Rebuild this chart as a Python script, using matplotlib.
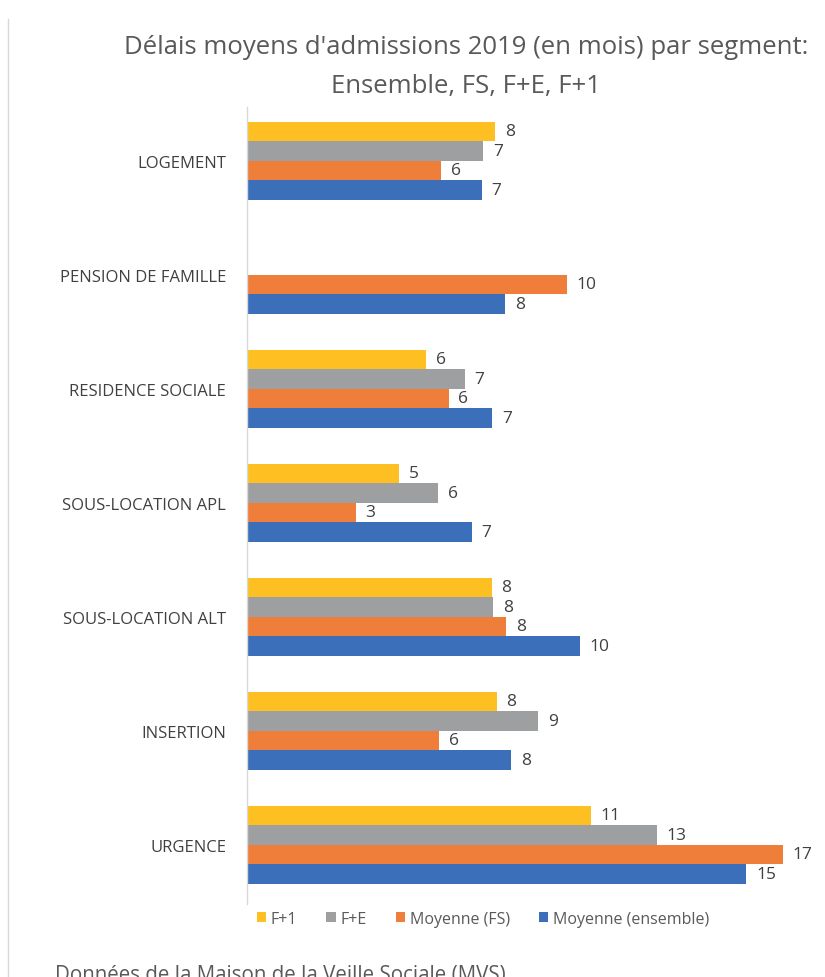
import numpy as np
import matplotlib.pyplot as plt
from matplotlib.lines import Line2D

# categories from top to bottom
categories = ['LOGEMENT', 'PENSION DE FAMILLE', 'RESIDENCE SOCIALE', 'SOUS-LOCATION APL',
              'SOUS-LOCATION ALT', 'INSERTION', 'URGENCE']
series = ['F+1', 'F+E', 'Moyenne (FS)', 'Moyenne (ensemble)']

# bar lengths (months)
f1 = [7.75, np.nan, 5.6, 4.75, 7.65, 7.8, 10.75]
fe = [7.38, np.nan, 6.8, 5.97, 7.69, 9.1, 12.8]
fs = [6.06, 10.0, 6.3, 3.4, 8.1, 6.0, 16.75]
ens = [7.34, 8.06, 7.66, 7.03, 10.4, 8.25, 15.6]

# data labels as printed on the chart
f1_lab = [8, None, 6, 5, 8, 8, 11]
fe_lab = [7, None, 7, 6, 8, 9, 13]
fs_lab = [6, 10, 6, 3, 8, 6, 17]
ens_lab = [7, 8, 7, 7, 10, 8, 15]

colors = ['#FDBF22', '#9D9FA0', '#EF7E3A', '#3C6FBA']
txt = '#404040'

plt.rcParams['font.family'] = ['Open Sans', 'DejaVu Sans']

fig = plt.figure(figsize=(8.25, 9.78), dpi=100)
ax = fig.add_axes([247 / 825, 1 - 905 / 978, 553 / 825, 797 / 978])

y = np.arange(len(categories))
h = 0.171
offsets = [-1.5 * h, -0.5 * h, 0.5 * h, 1.5 * h]
allvals = [f1, fe, fs, ens]
alllabs = [f1_lab, fe_lab, fs_lab, ens_lab]

for vals, labs, off, col, name in zip(allvals, alllabs, offsets, colors, series):
    ax.barh(y + off, vals, height=h, color=col, label=name)
    for yi, v, lab in zip(y, vals, labs):
        if lab is None:
            continue
        ax.annotate(str(lab), (v, yi + off), xytext=(7, 0), textcoords='offset points',
                    va='center', ha='left', fontsize=12.5, color=txt)

ax.set_xlim(0, 553 / 32)
ax.set_ylim(6.52, -0.47)
ax.set_yticks(y)
ax.set_yticklabels(categories, fontsize=12, color=txt)
ax.tick_params(axis='y', length=0, pad=15)
ax.set_xticks([])
for s in ['top', 'right', 'bottom']:
    ax.spines[s].set_visible(False)
ax.spines['left'].set_color('#d9d9d9')
ax.spines['left'].set_linewidth(1)

fig.text(466 / 825, 1 - 48 / 978, "Délais moyens d'admissions 2019 (en mois) par segment:",
         ha='center', va='center', fontsize=18.5, color='#595959')
fig.text(466 / 825, 1 - 86 / 978, 'Ensemble, FS, F+E, F+1',
         ha='center', va='center', fontsize=18.5, color='#595959')

fig.legend(loc='center', bbox_to_anchor=(483 / 825, 1 - 920 / 978), ncol=4, frameon=False,
           fontsize=11.5, labelcolor='#595959', handlelength=0.6, handleheight=0.6,
           handletextpad=0.3, columnspacing=1.8)

fig.text(55 / 825, 1 - 976 / 978, 'Données de la Maison de la Veille Sociale (MVS)',
         ha='left', va='center', fontsize=14.8, color='#595959')

fig.add_artist(Line2D([8 / 825, 8 / 825], [0, 1 - 20 / 978], color='#d9d9d9', lw=1))

fig.savefig('out.png', dpi=100)
